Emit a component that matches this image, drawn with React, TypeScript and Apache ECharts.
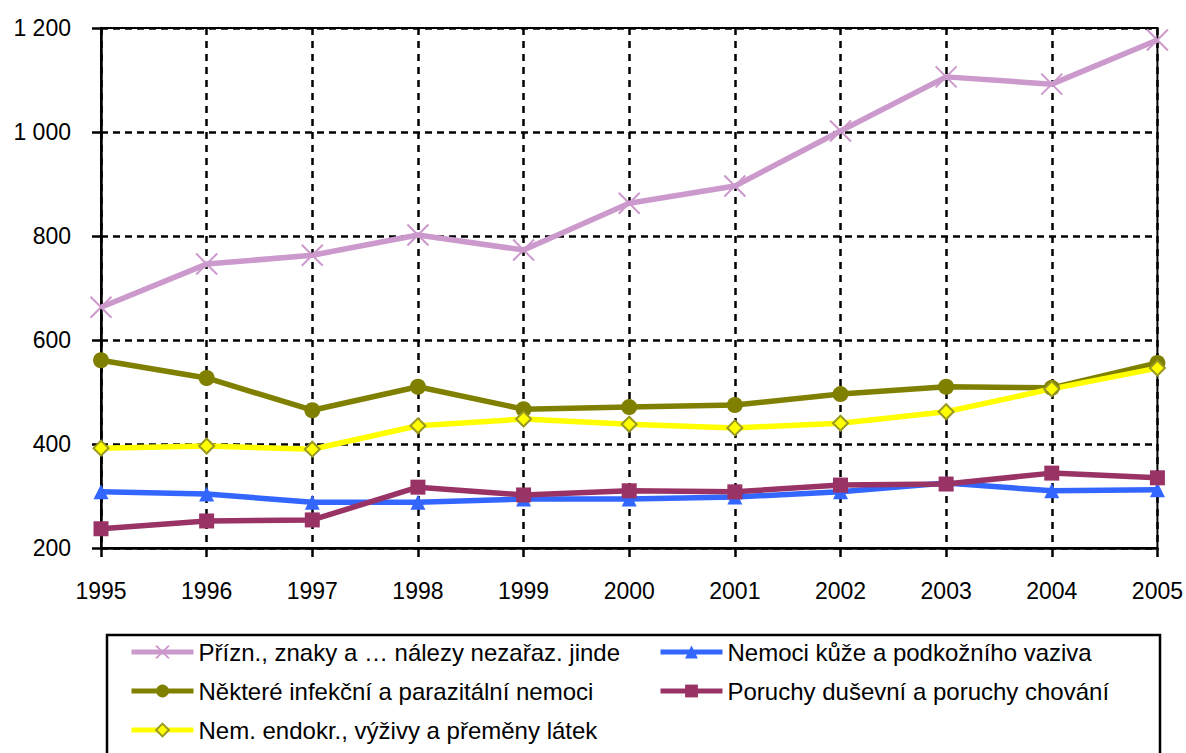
import React, { useEffect, useRef } from "react";
import * as echarts from "echarts";

const years = ["1995", "1996", "1997", "1998", "1999", "2000", "2001", "2002", "2003", "2004", "2005"];
const yTicks = [200, 400, 600, 800, 1000, 1200];

const nameSymptoms = "Přízn., znaky a … nálezy nezařaz. jinde";
const nameSkin = "Nemoci kůže a podkožního vaziva";
const nameInfect = "Některé infekční a parazitální nemoci";
const nameMental = "Poruchy duševní a poruchy chování";
const nameEndocr = "Nem. endokr., výživy a přeměny látek";

const symptoms = [663, 746, 763, 802, 773, 863, 896, 1002, 1106, 1092, 1177];
const skin = [308, 304, 288, 288, 294, 294, 298, 308, 325, 310, 312];
const infect = [561, 527, 465, 510, 467, 471, 475, 496, 510, 508, 556];
const mental = [237, 252, 254, 317, 302, 310, 308, 321, 323, 344, 335];
const endocr = [392, 396, 390, 435, 448, 438, 431, 440, 462, 506, 546];

const FONT = "'Liberation Sans Narrow', 'Liberation Sans', Arial, sans-serif";

export default function App() {
  const ref = useRef<HTMLDivElement>(null);
  useEffect(() => {
    document.body.style.margin = "0";
    const chart = echarts.init(ref.current!, null, { renderer: "svg" });
    const lineW = 5.5;
    const legendText = { fontFamily: FONT, fontSize: 24, color: "#000", lineHeight: 26 };
    const legendBase = {
      orient: "vertical",
      top: 634,
      height: 200,
      itemWidth: 62,
      itemHeight: 16,
      itemGap: 13,
      textStyle: legendText,
      lineStyle: { width: 5 },
      selectedMode: false,
    };
    chart.setOption({
      animation: false,
      backgroundColor: "#fff",
      grid: {
        left: 101,
        right: 28,
        top: 28,
        bottom: 205,
        show: true,
        borderColor: "#000",
        borderWidth: 2,
        backgroundColor: "transparent",
      },
      xAxis: {
        type: "category",
        data: years,
        boundaryGap: false,
        axisLine: { lineStyle: { color: "#000", width: 2.5 } },
        axisTick: { show: true, length: 9, lineStyle: { color: "#000", width: 2.5 } },
        axisLabel: { color: "#000", fontFamily: FONT, fontSize: 23, margin: 31 },
        splitLine: { show: true, lineStyle: { color: "#000", width: 2.5, type: [7, 6] } },
      },
      yAxis: {
        type: "value",
        min: yTicks[0],
        max: yTicks[yTicks.length - 1],
        interval: 200,
        axisLine: { show: true, lineStyle: { color: "#000", width: 2.5 } },
        axisTick: { show: true, length: 9, lineStyle: { color: "#000", width: 2.5 } },
        axisLabel: {
          color: "#000",
          fontFamily: FONT,
          fontSize: 23,
          margin: 30,
          formatter: (v: number) => String(v).replace(/\B(?=(\d{3})+(?!\d))/g, " "),
        },
        splitLine: { show: true, lineStyle: { color: "#000", width: 2.5, type: [7, 5] } },
      },
      legend: [
        { ...legendBase, left: 124, data: [nameSymptoms, nameInfect, nameEndocr] },
        { ...legendBase, left: 653, data: [nameSkin, nameMental] },
      ],
      graphic: [
        {
          type: "rect",
          shape: { x: 107, y: 635, width: 1053, height: 140 },
          style: { fill: "none", stroke: "#000", lineWidth: 2.5 },
          z: 0,
        },
      ],
      series: [
        {
          name: nameSymptoms,
          type: "line",
          data: symptoms,
          symbol: "path://M0,0L10,10M10,0L0,10",
          symbolSize: 21,
          lineStyle: { color: "#CC99CC", width: lineW },
          itemStyle: { color: "#CC99CC", borderColor: "#CC99CC", borderWidth: 2 },
        },
        {
          name: nameSkin,
          type: "line",
          data: skin,
          symbol: "triangle",
          symbolSize: 15,
          lineStyle: { color: "#3366FF", width: lineW },
          itemStyle: { color: "#3366FF" },
        },
        {
          name: nameInfect,
          type: "line",
          data: infect,
          symbol: "circle",
          symbolSize: 16,
          lineStyle: { color: "#808000", width: lineW },
          itemStyle: { color: "#808000" },
        },
        {
          name: nameMental,
          type: "line",
          data: mental,
          symbol: "rect",
          symbolSize: 15,
          lineStyle: { color: "#993366", width: lineW },
          itemStyle: { color: "#993366" },
        },
        {
          name: nameEndocr,
          type: "line",
          data: endocr,
          symbol: "diamond",
          symbolSize: 15,
          lineStyle: { color: "#FFFF00", width: lineW },
          itemStyle: { color: "#FFFF00", borderColor: "#999922", borderWidth: 2 },
        },
      ],
    });
    return () => chart.dispose();
  }, []);
  return <div ref={ref} style={{ width: 1186, height: 753, position: "absolute", left: 0, top: 0 }} />;
}
